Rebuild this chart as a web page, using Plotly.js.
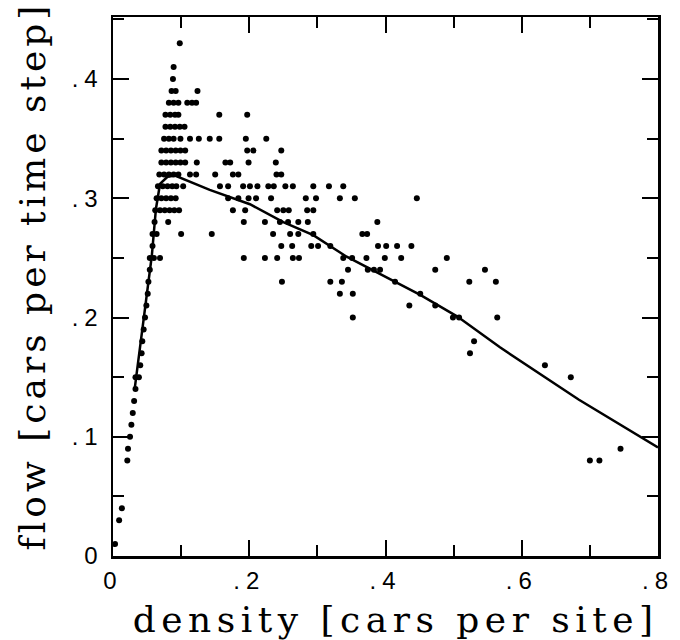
<!DOCTYPE html>
<html>
<head>
<meta charset="utf-8">
<script src="https://cdn.plot.ly/plotly-3.0.1.min.js"></script>
<style>
  html, body { margin: 0; padding: 0; background: #fff; }
  #chart { width: 680px; height: 640px; }
  .annotation[data-index="0"] text { letter-spacing: 5.5px; }
  .annotation[data-index="1"] text { letter-spacing: 4px; }
  .xtick text, .ytick text { letter-spacing: 6px; }
</style>
</head>
<body>
<div id="chart"></div>
<script>
// Simulation points: one flow level per row, with the densities found on that row
const rowFlow = [0.43, 0.41, 0.40, 0.39, 0.38, 0.37, 0.36, 0.35, 0.34, 0.33, 0.32, 0.31, 0.30, 0.29, 0.28, 0.27, 0.26, 0.25, 0.24, 0.23, 0.22, 0.21, 0.20, 0.19, 0.18, 0.17, 0.16, 0.15, 0.14, 0.13, 0.12, 0.11, 0.10, 0.09, 0.08, 0.04, 0.03, 0.01];
const rowDensities = [
  [0.098],
  [0.089],
  [0.088],
  [0.086, 0.092, 0.124],
  [0.082, 0.089, 0.096, 0.109, 0.116, 0.122],
  [0.077, 0.084, 0.091, 0.096, 0.156, 0.197],
  [0.077, 0.084, 0.091, 0.098, 0.105],
  [0.075, 0.082, 0.089, 0.099, 0.113, 0.126, 0.142, 0.156, 0.195, 0.225],
  [0.071, 0.078, 0.085, 0.092, 0.099, 0.106, 0.197, 0.206, 0.247],
  [0.071, 0.078, 0.085, 0.092, 0.099, 0.106, 0.123, 0.165, 0.172, 0.199, 0.239],
  [0.068, 0.075, 0.082, 0.089, 0.096, 0.113, 0.122, 0.150, 0.176, 0.184, 0.240, 0.247],
  [0.066, 0.073, 0.080, 0.087, 0.093, 0.103, 0.157, 0.169, 0.191, 0.201, 0.212, 0.228, 0.236, 0.253, 0.264, 0.294, 0.317, 0.338],
  [0.064, 0.071, 0.078, 0.085, 0.092, 0.169, 0.184, 0.199, 0.210, 0.232, 0.283, 0.298, 0.333, 0.355, 0.446],
  [0.062, 0.069, 0.076, 0.083, 0.090, 0.097, 0.176, 0.194, 0.241, 0.250, 0.258, 0.285, 0.294],
  [0.061, 0.081, 0.192, 0.223, 0.245, 0.257, 0.272, 0.286, 0.388],
  [0.058, 0.064, 0.100, 0.145, 0.235, 0.260, 0.272, 0.294, 0.366, 0.373],
  [0.058, 0.247, 0.263, 0.291, 0.301, 0.319, 0.389, 0.401, 0.417, 0.438],
  [0.054, 0.060, 0.069, 0.192, 0.223, 0.241, 0.264, 0.273, 0.338, 0.351, 0.372, 0.399, 0.423, 0.490],
  [0.054, 0.345, 0.374, 0.383, 0.392, 0.473, 0.546],
  [0.052, 0.248, 0.319, 0.336, 0.414, 0.523, 0.562],
  [0.051, 0.333, 0.352, 0.451],
  [0.049, 0.435, 0.473],
  [0.047, 0.352, 0.499, 0.508, 0.564],
  [0.045],
  [0.043, 0.530],
  [0.042, 0.524],
  [0.040, 0.634],
  [0.033, 0.038, 0.672],
  [0.033],
  [0.031],
  [0.029],
  [0.027],
  [0.025],
  [0.022, 0.745],
  [0.021, 0.700, 0.714],
  [0.013],
  [0.009],
  [0.003]
];

// Theoretical curve
const curveDensity = [0.032, 0.048, 0.057, 0.063, 0.069, 0.080, 0.091, 0.142, 0.172, 0.201, 0.250, 0.294, 0.343, 0.414, 0.451, 0.505, 0.568, 0.684, 0.800];
const curveFlow    = [0.141, 0.215, 0.252, 0.291, 0.312, 0.318, 0.319, 0.307, 0.301, 0.295, 0.280, 0.269, 0.251, 0.230, 0.219, 0.201, 0.175, 0.131, 0.091];

// Tick labels
const xTickVals = [0, 0.2, 0.4, 0.6, 0.8];
const xTickText = ['0', '.2', '.4', '.6', '.8'];
const yTickVals = [0, 0.1, 0.2, 0.3, 0.4];
const yTickText = ['0', '.1', '.2', '.3', '.4'];

const xTitle = 'density [cars per site]';
const yTitle = 'flow [cars per time step]';

const simDensity = [];
const simFlow = [];
rowDensities.forEach((row, i) => {
  row.forEach(d => { simDensity.push(d); simFlow.push(rowFlow[i]); });
});

const traces = [
  {
    type: 'scatter', mode: 'markers',
    x: simDensity, y: simFlow,
    marker: { color: '#000', size: 6, line: { width: 0 } },
    hoverinfo: 'x+y', showlegend: false
  },
  {
    type: 'scatter', mode: 'lines',
    x: curveDensity, y: curveFlow,
    line: { color: '#000', width: 2.5 },
    hoverinfo: 'skip', showlegend: false
  }
];

const titleFont = { family: '"DejaVu Serif", serif', size: 36, color: '#000' };

function axisBase() {
  return {
    showgrid: false, zeroline: false,
    showline: true, linecolor: '#000', linewidth: 2.5,
    mirror: 'allticks',
    ticks: 'inside', ticklen: 16, tickwidth: 2, tickcolor: '#000',
    tickmode: 'array',
    tickfont: { family: 'Liberation Sans, Arial, sans-serif', size: 24, color: '#000' },
    fixedrange: true
  };
}

const layout = {
  width: 680, height: 640,
  margin: { l: 113, r: 22, t: 17, b: 84 },
  paper_bgcolor: '#fff', plot_bgcolor: '#fff',
  showlegend: false,
  xaxis: Object.assign(axisBase(), {
    range: [0, 0.8],
    tickvals: xTickVals, ticktext: xTickText,
    ticklabelstandoff: 2,
    minor: { tickvals: [0.1, 0.3, 0.5, 0.7], ticks: 'inside', ticklen: 11, tickwidth: 2, tickcolor: '#000' }
  }),
  yaxis: Object.assign(axisBase(), {
    range: [0, 0.452],
    tickvals: yTickVals, ticktext: yTickText,
    ticklabelstandoff: 2,
    minor: { tickvals: [0.05, 0.15, 0.25, 0.35, 0.45], ticks: 'inside', ticklen: 11, tickwidth: 2, tickcolor: '#000' }
  }),
  annotations: [
    {
      text: xTitle, xref: 'paper', yref: 'paper',
      x: 0.519, y: -0.118, xanchor: 'center', yanchor: 'middle',
      showarrow: false, font: titleFont
    },
    {
      text: yTitle, xref: 'paper', yref: 'paper',
      x: -0.148, y: 0.52, xanchor: 'center', yanchor: 'middle',
      textangle: -90, showarrow: false, font: titleFont
    }
  ]
};

Plotly.newPlot('chart', traces, layout, { staticPlot: true, displayModeBar: false });
</script>
</body>
</html>
